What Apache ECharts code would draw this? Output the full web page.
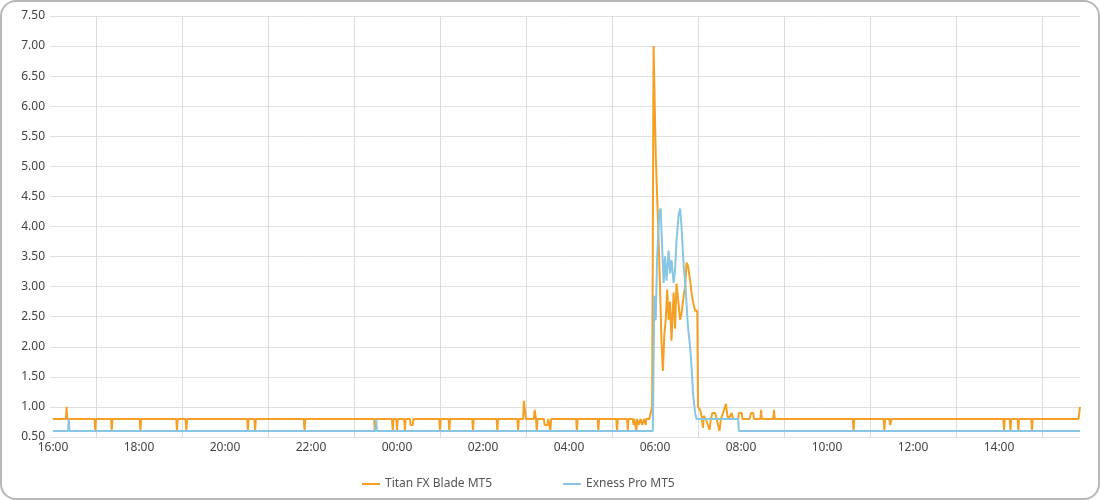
<!DOCTYPE html>
<html>
<head>
<meta charset="utf-8">
<script src="https://cdn.jsdelivr.net/npm/echarts@6/dist/echarts.min.js"></script>
<style>
html,body{margin:0;padding:0;background:#fff;}
#chart{position:absolute;left:0;top:0;width:1100px;height:500px;}
#frame{position:absolute;left:0;top:0;width:1100px;height:500px;box-sizing:border-box;border:2px solid #b8b8b8;border-radius:16px;pointer-events:none;}
</style>
</head>
<body>
<div id="chart"></div>
<div id="frame"></div>
<script>
// x-axis tick labels (even hours) and vertical grid lines (odd hours)
const labelTimes = ['16:00','18:00','20:00','22:00','00:00','02:00','04:00','06:00','08:00','10:00','12:00','14:00'];
const gridTimes = ['17:00','19:00','21:00','23:00','01:00','03:00','05:00','07:00','09:00','11:00','13:00','15:00'];
const startTime = '16:00';
const endTime = '15:53';
const seriesNames = ['Titan FX Blade MT5', 'Exness Pro MT5'];

// Titan FX Blade MT5 spread readings [time, value]
const titanFX = [
['16:00',0.8],['16:18',0.8],['16:19',1.0],['16:20',0.8],
['16:58',0.8],['16:59',0.6],['17:00',0.8],
['17:21',0.8],['17:22',0.6],['17:23',0.8],
['18:01',0.8],['18:02',0.6],['18:03',0.8],
['18:52',0.8],['18:53',0.6],['18:54',0.8],
['19:05',0.8],['19:06',0.6],['19:07',0.8],
['20:31',0.8],['20:32',0.6],['20:33',0.8],
['20:41',0.8],['20:42',0.6],['20:43',0.8],
['21:50',0.8],['21:51',0.6],['21:52',0.8],
['23:28',0.8],['23:29',0.6],['23:30',0.8],
['23:53',0.8],['23:54',0.6],['23:55',0.8],
['23:59',0.8],['00:00',0.6],['00:01',0.8],
['00:10',0.8],['00:11',0.6],['00:12',0.8],
['00:18',0.8],['00:19',0.7],['00:22',0.7],['00:23',0.8],
['00:59',0.8],['01:00',0.6],['01:01',0.8],
['01:12',0.8],['01:13',0.6],['01:14',0.8],
['01:45',0.8],['01:46',0.6],['01:47',0.8],
['02:19',0.8],['02:20',0.6],['02:21',0.8],
['02:48',0.8],['02:49',0.6],['02:50',0.8],
['02:56',0.8],['02:57',1.1],['02:59',1.1],['03:00',0.8],
['03:11',0.8],['03:12',0.95],['03:14',0.8],['03:15',0.6],['03:16',0.8],
['03:25',0.8],['03:26',0.7],['03:30',0.7],['03:31',0.8],
['03:33',0.8],['03:34',0.6],['03:35',0.8],
['04:10',0.8],['04:11',0.6],['04:12',0.8],
['04:40',0.8],['04:41',0.6],['04:42',0.8],
['05:06',0.8],['05:07',0.6],['05:08',0.8],
['05:21',0.8],['05:22',0.6],['05:23',0.8],
['05:29',0.8],['05:30',0.7],['05:31',0.8],
['05:33',0.8],['05:34',0.6],['05:35',0.8],
['05:37',0.7],['05:39',0.7],['05:40',0.8],
['05:42',0.7],['05:44',0.7],['05:45',0.8],
['05:47',0.7],['05:48',0.8],
['05:52',0.8],['05:54',0.9],['05:56',1.0],['05:58',7.0],
['06:01',5.2],['06:03',4.5],['06:05',3.8],['06:06',3.4],['06:08',2.55],['06:09',2.1],['06:11',1.6],
['06:13',2.2],['06:15',2.45],['06:17',2.95],['06:19',2.45],['06:21',2.75],['06:23',2.1],['06:26',2.9],
['06:28',2.3],['06:30',3.05],['06:33',2.7],['06:35',2.45],['06:37',2.55],['06:40',2.85],['06:42',3.0],
['06:44',3.4],['06:46',3.35],['06:49',3.1],['06:51',2.9],['06:53',2.75],['06:56',2.6],['06:59',2.6],['07:00',1.0],
['07:03',0.95],['07:05',0.85],['07:07',0.65],['07:08',0.85],['07:11',0.8],['07:16',0.62],['07:18',0.8],
['07:20',0.9],['07:24',0.9],['07:26',0.8],['07:30',0.6],['07:32',0.8],['07:35',0.9],['07:39',1.05],
['07:41',0.85],['07:43',0.8],['07:47',0.9],['07:49',0.8],
['07:56',0.8],['07:57',0.9],['08:01',0.9],['08:02',0.8],
['08:12',0.8],['08:14',0.9],['08:17',0.9],['08:18',0.8],
['08:27',0.8],['08:28',0.95],['08:29',0.8],
['08:45',0.8],['08:46',0.95],['08:47',0.8],
['10:36',0.8],['10:37',0.6],['10:38',0.8],
['11:19',0.8],['11:20',0.6],['11:21',0.8],
['11:27',0.8],['11:28',0.7],['11:29',0.7],['11:30',0.8],
['14:06',0.8],['14:07',0.6],['14:08',0.8],
['14:15',0.8],['14:16',0.6],['14:17',0.8],
['14:26',0.8],['14:27',0.6],['14:28',0.8],
['14:45',0.8],['14:46',0.6],['14:47',0.8],
['15:51',0.8],['15:53',1.0]
];

// Exness Pro MT5 spread readings [time, value]
const exnessPro = [
['16:00',0.6],['16:21',0.6],['16:22',0.8],['16:23',0.6],
['23:30',0.6],['23:31',0.8],['23:32',0.6],
['05:57',0.6],['05:59',2.85],['06:01',2.44],['06:03',3.5],['06:06',4.25],['06:08',4.3],['06:09',3.94],
['06:12',3.06],['06:14',3.5],['06:16',3.1],['06:19',3.6],['06:21',3.22],['06:23',3.44],['06:26',3.06],
['06:28',3.28],['06:30',3.77],['06:33',4.2],['06:35',4.3],['06:37',4.0],['06:40',3.33],['06:42',3.1],
['06:44',2.72],['06:46',2.33],['06:49',2.0],['06:51',1.66],['06:53',1.23],['06:56',0.9],['06:58',0.8],
['07:56',0.8],['07:57',0.6],['15:53',0.6]
];

function toMin(t){
  const p = t.split(':').map(Number);
  const s = startTime.split(':').map(Number);
  return ((p[0]*60 + p[1]) - (s[0]*60 + s[1]) + 1440) % 1440;
}
function fmt(v){
  const s = startTime.split(':').map(Number);
  const tot = (Math.round(v) + s[0]*60 + s[1]) % 1440;
  const h = Math.floor(tot/60), m = tot % 60;
  return (h<10?'0':'')+h+':'+(m<10?'0':'')+m;
}
const toData = arr => arr.map(d => [toMin(d[0]), d[1]]);

const font = "'Segoe UI','Noto Sans',sans-serif";
const chart = echarts.init(document.getElementById('chart'), null, {renderer:'canvas'});
chart.setOption({
  animation: false,
  color: ['#F5A024', '#87C6E4'],
  grid: {left: 53, right: 20, top: 16, bottom: 63, containLabel: false},
  legend: {
    data: seriesNames,
    left: 357, top: 473,
    icon: 'rect', itemWidth: 18, itemHeight: 2, itemGap: 71,
    textStyle: {color: '#555', fontSize: 12, fontFamily: font}
  },
  xAxis: {
    type: 'value',
    min: toMin(startTime), max: toMin(endTime),
    axisLine: {show: false},
    axisTick: {show: false, customValues: gridTimes.map(toMin)},
    axisLabel: {customValues: labelTimes.map(toMin), formatter: fmt, color: '#444', fontSize: 12, fontFamily: font, margin: 5},
    splitLine: {show: true, lineStyle: {color: '#dcdcdc', width: 1}}
  },
  yAxis: {
    type: 'value', min: 0.5, max: 7.5, interval: 0.5,
    axisLine: {show: false},
    axisTick: {show: true, length: 3, lineStyle: {color: '#e0e0e0'}},
    axisLabel: {formatter: v => v.toFixed(2), color: '#444', fontSize: 12, fontFamily: font, margin: 8},
    splitLine: {show: true, lineStyle: {color: '#e0e0e0', width: 1}}
  },
  series: [
    {name: seriesNames[0], type: 'line', data: toData(titanFX), symbol: 'none', showSymbol: false,
     lineStyle: {width: 2, color: '#F5A024'}, itemStyle: {color: '#F5A024'}},
    {name: seriesNames[1], type: 'line', data: toData(exnessPro), symbol: 'none', showSymbol: false,
     lineStyle: {width: 2, color: '#87C6E4'}, itemStyle: {color: '#87C6E4'}}
  ]
});
</script>
</body>
</html>
